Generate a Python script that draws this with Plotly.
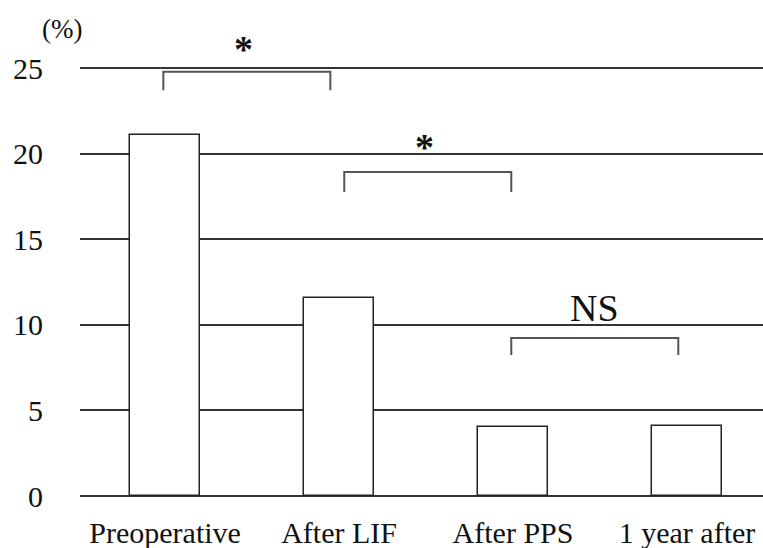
import plotly.graph_objects as go

categories = ["Preoperative", "After LIF", "After PPS", "1 year after"]
values = [21.1, 11.55, 4.03, 4.08]
y_ticks = [0, 5, 10, 15, 20, 25]

# significance brackets: (left x, right x, top y, bottom y, label, label x, label y)
br_left = [-0.01, 1.03, 1.99]
br_right = [0.95, 1.99, 2.95]
br_top = [24.78, 18.93, 9.23]
br_bottom = [23.7, 17.76, 8.24]
br_label = ["*", "*", "NS"]
br_label_x = [0.45, 1.49, 2.47]
br_label_y = [26.1, 20.4, 11.0]

FONT = "Liberation Serif"
Y_MAX = 25.06
x_pos = list(range(len(categories)))

fig = go.Figure()
fig.add_trace(go.Bar(
    x=x_pos, y=values, width=0.4,
    marker=dict(color="white", line=dict(color="#222", width=1.5)),
    showlegend=False, hoverinfo="skip",
))

for l, r, t, b in zip(br_left, br_right, br_top, br_bottom):
    fig.add_trace(go.Scatter(
        x=[l, l, r, r], y=[b, t, t, b], mode="lines",
        line=dict(color="#555", width=2), showlegend=False,
        hoverinfo="skip", cliponaxis=False,
    ))

for lab, lx, ly in zip(br_label, br_label_x, br_label_y):
    is_ns = lab == "NS"
    fig.add_annotation(
        x=lx, y=ly / Y_MAX, xref="x", yref="paper",
        text=lab if is_ns else "<b>*</b>", showarrow=False,
        font=dict(family=FONT, size=38, color="#111"),
        xanchor="center", yanchor="middle",
    )

W, H = 763, 548
ML, MR, MT, MB = 80, 0, 67, 52
fig.add_annotation(
    x=(62 - ML) / (W - ML - MR), y=1 + (MT - 29) / (H - MT - MB),
    xref="paper", yref="paper", text="(%)", showarrow=False,
    font=dict(family=FONT, size=27, color="#111"),
    xanchor="center", yanchor="middle",
)

fig.update_layout(
    width=W, height=H,
    margin=dict(l=ML, r=MR, t=MT, b=MB),
    paper_bgcolor="white", plot_bgcolor="white",
    bargap=0,
)

fig.update_xaxes(
    range=[-0.489, 3.437], tickmode="array", tickvals=x_pos, ticktext=categories,
    showgrid=False, zeroline=False, showline=False, ticks="",
    tickfont=dict(family=FONT, size=30, color="#111"), ticklabelstandoff=16,
)
fig.update_yaxes(
    range=[0, Y_MAX], tickmode="array", tickvals=y_ticks,
    showgrid=True, gridcolor="#333", gridwidth=1.5,
    zeroline=True, zerolinecolor="#333", zerolinewidth=1.5,
    showline=False, ticks="",
    tickfont=dict(family=FONT, size=30, color="#111"), ticklabelstandoff=36,
)

fig.write_html("out.html", config={"displayModeBar": False},
               post_script="document.body.style.margin='0';")
